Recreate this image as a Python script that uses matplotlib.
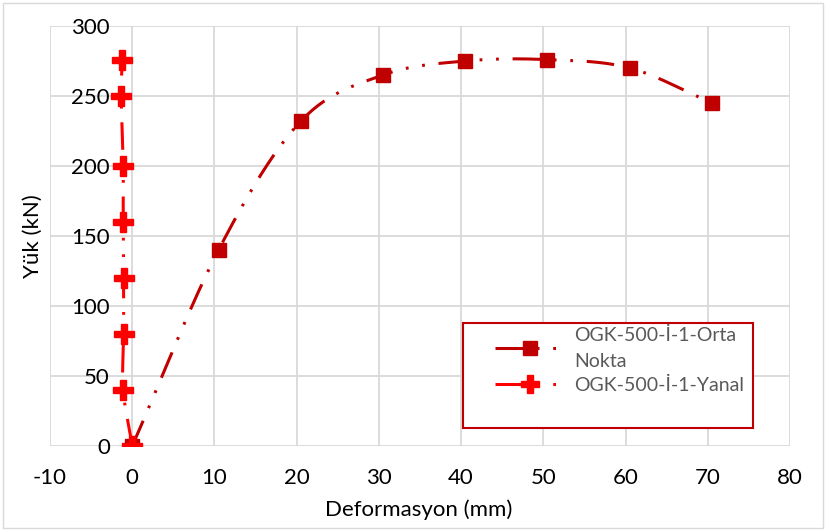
import matplotlib
matplotlib.use("Agg")
import matplotlib.pyplot as plt
from matplotlib.patches import Rectangle
from matplotlib.lines import Line2D
import numpy as np

plt.rcParams['font.family'] = ['Lato', 'DejaVu Sans']
plt.rcParams['axes.unicode_minus'] = False

# Orta Nokta series
orta_x = [0, 10.5, 20.5, 30.5, 40.5, 50.5, 60.5, 70.5]
orta_y = [0, 140, 232, 265, 275, 276, 270, 245]
# Yanal series
yanal_x = [0, -1.1, -1.05, -1.05, -1.1, -1.1, -1.35, -1.2]
yanal_y = [0, 40, 80, 120, 160, 200, 250, 276]

orta_label = "OGK-500-İ-1-Orta\nNokta"
yanal_label = "OGK-500-İ-1-Yanal"

dark_red = "#c00000"
red = "#ff0000"
grid_col = "#d9d9d9"
dash = (0, (9, 4.5, 0.9, 4.5, 0.9, 4.5))
W, H = 826, 530


def smooth(xs, ys, n=30):
    # catmull-rom curve through the points (like excel "smoothed line")
    p = np.column_stack([xs, ys]).astype(float)
    p = np.vstack([2 * p[0] - p[1], p, 2 * p[-1] - p[-2]])
    out = []
    t = np.linspace(0, 1, n)[:, None]
    for i in range(1, len(p) - 2):
        p0, p1, p2, p3 = p[i - 1], p[i], p[i + 1], p[i + 2]
        seg = 0.5 * ((2 * p1) + (-p0 + p2) * t + (2 * p0 - 5 * p1 + 4 * p2 - p3) * t ** 2
                     + (-p0 + 3 * p1 - 3 * p2 + p3) * t ** 3)
        out.append(seg if i == 1 else seg[1:])
    out = np.vstack(out)
    return out[:, 0], out[:, 1]


fig = plt.figure(figsize=(W / 100, H / 100), dpi=100)
ax = fig.add_axes([50 / W, 1 - 446 / H, 740 / W, 420 / H])

sx, sy = smooth(orta_x, orta_y)
ax.plot(sx, sy, color=dark_red, lw=2.2, linestyle=dash, zorder=3)
ax.plot(orta_x, orta_y, linestyle='none', marker='s', ms=10.5, color=dark_red, zorder=4)

sx, sy = smooth(yanal_x, yanal_y)
ax.plot(sx, sy, color=red, lw=2.2, linestyle=dash, zorder=3)
ax.plot(yanal_x, yanal_y, linestyle='none', marker='P', ms=15, color=red, zorder=5)

ax.set_xlim(-10, 80)
ax.set_ylim(0, 300)
ax.set_xticks(np.arange(-10, 81, 10))
ax.set_yticks(np.arange(0, 301, 50))
ax.grid(True, color=grid_col, lw=1.3)
ax.set_axisbelow(True)
for s in ax.spines.values():
    s.set_visible(False)
# y labels sit next to the vertical axis at x=0, like excel
ax.spines['left'].set_position(('data', 0))
ax.tick_params(length=0, labelsize=16, colors='black')
ax.tick_params(axis='y', pad=16)
ax.tick_params(axis='x', pad=16)
ax.set_xlabel("Deformasyon (mm)", fontsize=16)
ax.xaxis.set_label_coords((419 - 50) / 740, -(510 - 446) / 420)
ax.xaxis.label.set_va('center')
ax.set_ylabel("Yük (kN)", fontsize=16)
ax.yaxis.set_label_coords((33 - 50) / 740, (446 - 236) / 420)
ax.yaxis.label.set_va('center')

# figure outline
fig.patches.append(Rectangle((3 / W, 2 / H), 820 / W, 525 / H, transform=fig.transFigure,
                             fill=False, ec=grid_col, lw=1))

# legend box
fig.patches.append(Rectangle((463 / W, 1 - 428 / H), 290 / W, 105 / H,
                             transform=fig.transFigure, fc='white', ec=dark_red, lw=1.5, zorder=5))
handles = [Line2D([], [], color=dark_red, lw=2.2, linestyle=dash, marker='s', ms=10.5),
           Line2D([], [], color=red, lw=2.2, linestyle=dash, marker='P', ms=13)]
leg = fig.legend(handles, [orta_label, yanal_label], loc='upper left',
                 bbox_to_anchor=(495 / W, 1 - 327 / H), frameon=False,
                 fontsize=14, labelcolor='#595959', handlelength=3.6, handletextpad=0.45,
                 labelspacing=0.35, borderpad=0, borderaxespad=0)
for t in leg.get_texts():
    t.set_linespacing(1.6)
leg.set_zorder(6)

fig.savefig("out.png", dpi=100)
